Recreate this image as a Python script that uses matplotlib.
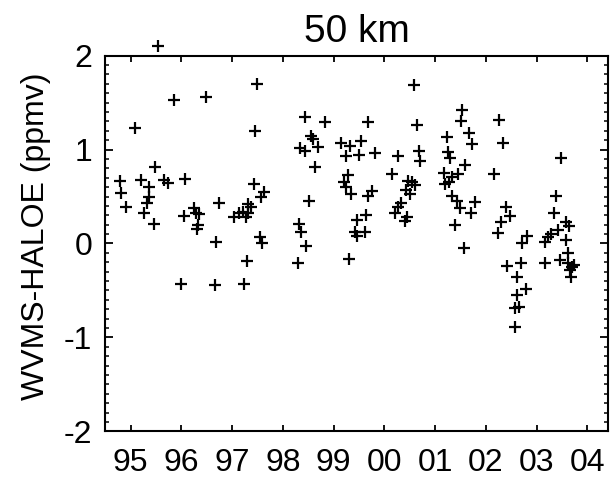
import matplotlib
matplotlib.use("Agg")
import matplotlib.pyplot as plt
from matplotlib.ticker import MultipleLocator

plt.rcParams['font.family'] = ['Liberation Sans', 'DejaVu Sans']
plt.rcParams['axes.unicode_minus'] = False

# WVMS - HALOE differences at 50 km (decimal year, ppmv)
years = [
    1995.54, 1995.85, 1996.48, 1995.08, 1995.49, 1994.80, 1995.20, 1995.66, 1995.73, 1996.08,
    1995.36, 1994.82, 1995.37, 1995.32, 1994.90, 1996.24, 1996.29, 1996.35, 1995.27, 1996.05,
    1995.46, 1996.32, 1996.31, 1996.00,
    1997.48, 1997.46, 1996.74, 1997.44, 1997.63, 1997.57, 1997.32, 1997.37, 1997.22, 1997.31,
    1997.04, 1997.14, 1997.27, 1996.68, 1997.55, 1997.59, 1997.30, 1996.67, 1997.24,
    1998.43, 1998.34, 1998.44, 1998.51, 1998.31, 1998.36, 1998.46, 1998.29, 1998.82, 1999.68,
    1998.56, 1998.59, 1998.70, 1999.15, 1999.33, 1999.54, 1999.24, 1999.50, 1999.81, 2000.27,
    1998.64, 1999.29, 1999.20, 1999.25, 1999.34, 1999.75, 1999.67, 2000.14, 1999.46, 1999.63,
    1999.42, 1999.61, 1999.45, 1999.31,
    2000.47, 2000.54, 2000.60, 2000.43, 2000.50, 2000.32, 2000.27, 2000.21, 2000.40, 2000.44,
    2000.59, 2000.64, 2000.69, 2000.70, 2001.53, 2001.51, 2002.25, 2001.24, 2001.66, 2001.72,
    2002.33, 2001.25, 2001.29, 2001.59, 2001.17, 2001.44, 2001.34, 2001.20, 2001.28, 2002.16,
    2001.34, 2001.42, 2001.49, 2001.78, 2001.70, 2001.39, 2001.56,
    2002.40, 2002.48, 2002.29, 2002.23, 2002.41, 2003.48, 2003.38, 2003.34, 2003.57, 2003.64,
    2003.41, 2003.29, 2003.22, 2003.16, 2003.57, 2002.80, 2002.71, 2003.61, 2003.45, 2003.62,
    2003.74, 2003.69, 2003.16, 2003.65, 2003.67, 2002.69, 2002.62, 2002.78, 2002.62, 2002.66,
    2002.58, 2002.57,
]
diff = [
    2.10, 1.53, 1.56, 1.23, 0.81, 0.67, 0.68, 0.68, 0.64, 0.69,
    0.60, 0.54, 0.50, 0.43, 0.39, 0.38, 0.33, 0.31, 0.33, 0.29,
    0.21, 0.20, 0.15, -0.43,
    1.70, 1.20, 0.43, 0.63, 0.55, 0.49, 0.42, 0.39, 0.34, 0.32,
    0.28, 0.33, 0.28, 0.02, 0.07, 0.00, -0.19, -0.44, -0.43,
    1.35, 1.02, 0.99, 0.45, 0.21, 0.12, -0.03, -0.21, 1.29, 1.29,
    1.15, 1.11, 1.03, 1.07, 1.04, 1.09, 0.93, 0.94, 0.96, 0.93,
    0.81, 0.73, 0.65, 0.60, 0.53, 0.56, 0.51, 0.74, 0.25, 0.30,
    0.12, 0.12, 0.08, -0.16,
    0.67, 0.65, 0.62, 0.57, 0.53, 0.43, 0.39, 0.32, 0.24, 0.28,
    1.69, 1.26, 0.98, 0.88, 1.42, 1.30, 1.31, 1.13, 1.18, 1.06,
    1.07, 0.97, 0.91, 0.84, 0.75, 0.74, 0.71, 0.63, 0.65, 0.74,
    0.51, 0.45, 0.38, 0.44, 0.32, 0.20, -0.05,
    0.39, 0.29, 0.23, 0.11, -0.24, 0.91, 0.51, 0.33, 0.23, 0.19,
    0.14, 0.10, 0.07, 0.02, 0.04, 0.08, 0.01, -0.10, -0.18, -0.21,
    -0.23, -0.25, -0.21, -0.28, -0.36, -0.21, -0.36, -0.48, -0.55, -0.68,
    -0.69, -0.89,
]
year_ticks = [1995, 1996, 1997, 1998, 1999, 2000, 2001, 2002, 2003, 2004]
year_labels = ["95", "96", "97", "98", "99", "00", "01", "02", "03", "04"]

fig = plt.figure(figsize=(6.11, 4.79), dpi=100)
ax = fig.add_axes([0.1714, 0.0996, 0.8242, 0.7841])

ax.plot(years, diff, '+', color="black", ms=9, mew=1.6, clip_on=False)

ax.set_xlim(1994.49, 2004.41)
ax.set_ylim(-2, 2)
ax.set_xticks(year_ticks)
ax.set_xticklabels(year_labels)
ax.set_yticks([-2, -1, 0, 1, 2])
ax.yaxis.set_minor_locator(MultipleLocator(0.1))

ax.tick_params(axis='x', which='major', direction='in', top=True, length=4, width=1.3,
               labelsize=23, pad=12)
ax.tick_params(axis='y', which='major', direction='in', right=True, length=6, width=1.3,
               labelsize=23, pad=9)
ax.tick_params(axis='y', which='minor', direction='in', right=True, length=3, width=1.1)
for s in ax.spines.values():
    s.set_linewidth(1.5)

ax.set_ylabel("WVMS-HALOE (ppmv)", fontsize=23)
ax.yaxis.set_label_coords(-0.107, 0.52)
ax.set_title("50 km", fontsize=28, pad=10)

fig.savefig("out.png", dpi=100)
